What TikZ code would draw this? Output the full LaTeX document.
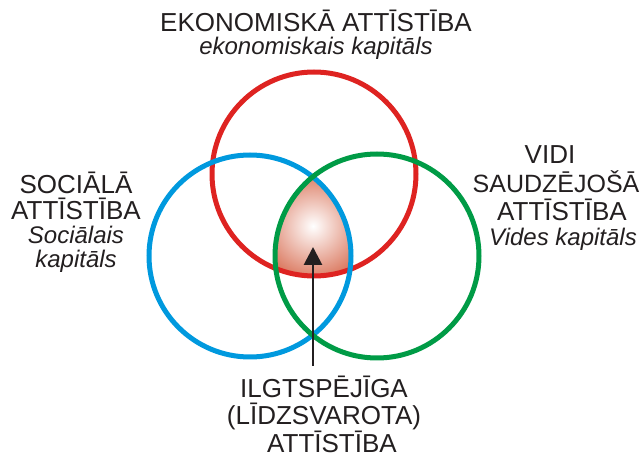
\documentclass[tikz,border=0pt]{standalone}
\usepackage{fontspec}
\setmainfont{Liberation Sans}
\usetikzlibrary{arrows.meta}
\definecolor{ekred}{RGB}{222,35,33}
\definecolor{socblue}{RGB}{0,153,222}
\definecolor{vidgreen}{RGB}{0,155,70}
\definecolor{ilgcore}{RGB}{212,96,66}
\definecolor{txtgray}{RGB}{35,31,32}

\begin{document}
\begin{tikzpicture}[x=1pt,y=-1pt,
  ring/.style={line width=5pt},
  caps/.style={font={\fontsize{26}{27}\selectfont\lineskiplimit=-30pt}, text=txtgray, align=center, inner sep=0pt, anchor=north}]
\useasboundingbox (0,0) rectangle (641,462);

%shaded core
\begin{scope}
\clip (250,256) circle[radius=101];
\clip (377,256) circle[radius=102];
\clip (314,174) circle[radius=102];
\shade[inner color=white, outer color=ilgcore] (313,226) circle[radius=64];
\end{scope}

%circles
\draw[ring, ekred] (314,174) circle[radius=102];
\draw[ring, socblue] (250,256) circle[radius=101];
\draw[ring, vidgreen] (377,256) circle[radius=102];

%arrow
\coordinate (arrbase) at (313,366);
\coordinate (arrtip) at (313,247);
\draw[line width=2.8pt, txtgray, -{Triangle[length=18pt,width=18pt]}] (arrbase) -- (arrtip);

%labels
\node[caps] (ekon) at (316,10) {EKONOMISKĀ ATTĪSTĪBA\\[-4pt]{\itshape\fontsize{24}{24}\selectfont ekonomiskais kapitāls}};
\node[caps] (soc) at (76,172) {SOCIĀLĀ\\[-1pt]ATTĪSTĪBA\\[-3pt]{\itshape\fontsize{24}{24}\selectfont Sociālais}\\[-3pt]{\itshape\fontsize{24}{24}\selectfont kapitāls}};
\node[caps] (vidi) at (556,145) {VIDI\hspace*{12pt}\\[2pt]{\fontsize{25}{25}\selectfont SAUDZĒJOŠĀ}\\[1pt]\hspace*{12pt}ATTĪSTĪBA\\[-2pt]\hspace*{14pt}{\itshape\fontsize{24}{24}\selectfont Vides kapitāls}};
\node[caps] (ilgt) at (324,376) {ILGTSPĒJĪGA\\(LĪDZSVAROTA)\\[1pt]\hspace*{16pt}ATTĪSTĪBA};
\end{tikzpicture}
\end{document}
